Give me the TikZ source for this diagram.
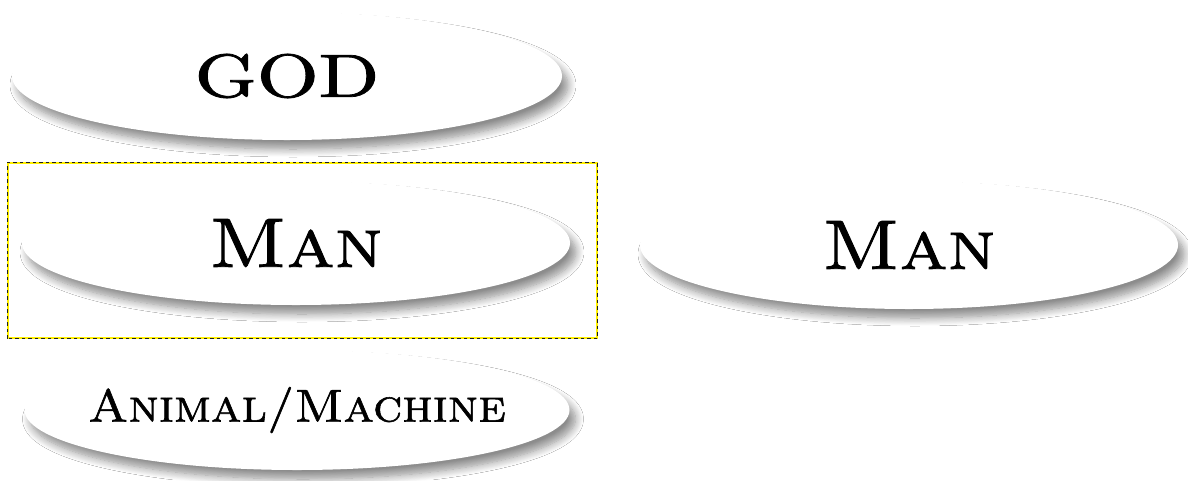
\documentclass[tikz,border=0pt]{standalone}
\usepackage{fontspec}
\usepackage{xcolor}
\usepackage{tikz}
\newfontfamily\levelfont{lmroman10-regular.otf}[FakeBold=1.2]
\newfontfamily\levelcaps{lmromancaps10-regular.otf}[FakeBold=1.2]
\definecolor{selyellow}{RGB}{255, 240, 0}
\definecolor{dashgray}{RGB}{30, 30, 30}
\usetikzlibrary{shapes,positioning,calc,shadows.blur}

\begin{document}
\begin{tikzpicture}[
    x=1pt, y=-1pt,
    level/.style={
        ellipse,
        fill=white,
        inner sep=0pt,
        align=center,
        text=black,
        blur shadow={shadow xshift=6pt, shadow yshift=-9pt, shadow blur radius=8pt,
                     shadow blur steps=10, shadow opacity=45}
    },
    selbox/.style={
        rectangle,
        draw=selyellow,
        line width=1.1pt,
        minimum width=589pt,
        minimum height=175pt,
        inner sep=0pt
    }
]
    \useasboundingbox[fill=white] (0,0) rectangle (1188,480);

    % Selection frame
    \node[selbox] (sel) at (302.5,250.5) {};
    \draw[dashgray, line width=1.1pt, dash pattern=on 3.5pt off 3pt]
        (sel.south west) rectangle (sel.north east);

    % Levels
    \node[level, minimum width=550pt, minimum height=128pt] (god) at (287,76)
        {\makebox[0pt]{\fontsize{61}{66}\levelfont\scalebox{1.3}[1]{GOD}}};
    \node[level, minimum width=548pt, minimum height=124pt] (man) at (296,243)
        {\makebox[0pt]{\fontsize{70}{76}\levelcaps\scalebox{1.12}[1]{Man}}};
    \node[level, minimum width=545pt, minimum height=120pt] (anim) at (297,410)
        {\makebox[0pt]{\fontsize{46}{50}\levelcaps\scalebox{1.08}[1]{Animal/Machine}}};
    \node[level, minimum width=538pt, minimum height=128pt] (man2) at (909,245)
        {\makebox[0pt]{\fontsize{70}{76}\levelcaps\scalebox{1.12}[1]{Man}}};
\end{tikzpicture}
\end{document}
